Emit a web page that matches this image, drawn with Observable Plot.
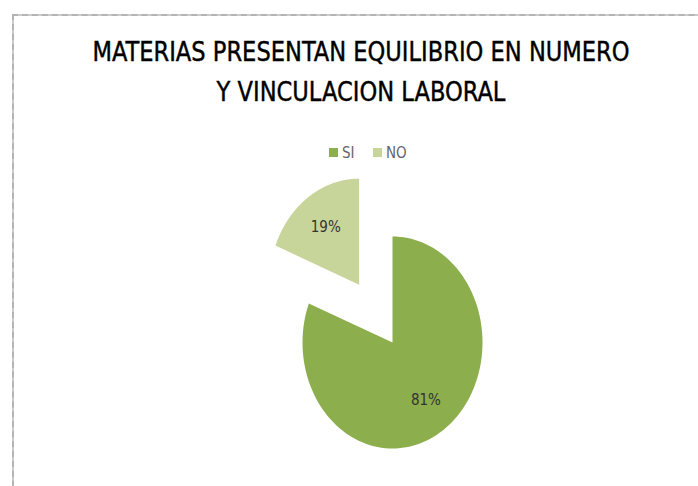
<!DOCTYPE html>
<html>
<head>
<meta charset="utf-8">
<script src="https://cdn.jsdelivr.net/npm/d3@7"></script>
<script src="https://cdn.jsdelivr.net/npm/@observablehq/plot@0.6"></script>
<style>
  html, body { margin: 0; padding: 0; background: #fff; }
  #page { position: relative; width: 698px; height: 486px; overflow: hidden; font-family: "Liberation Sans Narrow", "DejaVu Sans Condensed", "Open Sans", sans-serif; }
  #frame { position: absolute; left: 12px; top: 14px; width: 800px; height: 600px; border-left: 2px solid #cbcbcb; border-top: 2px solid #cbcbcb; }
  #frame2 { position: absolute; left: 12px; top: 14px; width: 800px; height: 600px; border-left: 2px dashed #8a8a8a; border-top: 2px dashed #8a8a8a; opacity: 0.35; }
  #title { position: absolute; left: 0; width: 722px; top: 32px; text-align: center; font-size: 27px; line-height: 40px; color: #000; transform: scaleX(0.93); transform-origin: 361px 0; -webkit-text-stroke: 0.4px #000; }
  #legend { position: absolute; top: 144px; left: 0; width: 698px; height: 18px; }
  .item { position: absolute; top: 0; font-size: 15px; color: #666; line-height: 18px; }
  .sw { display: inline-block; width: 9px; height: 9px; margin-right: 4px; vertical-align: 1px; }
  #chart { position: absolute; left: 0; top: 170px; }
</style>
</head>
<body>
<div id="page">
  <div id="frame"></div>
  <div id="frame2"></div>
  <div id="title">MATERIAS PRESENTAN EQUILIBRIO EN NUMERO<br>Y VINCULACION LABORAL</div>
  <div id="legend"></div>
  <div id="chart"></div>
</div>
<script>
const categories = ["SI", "NO"];
const values = [81, 19];
const labels = ["81%", "19%"];
const colors = ["#8cae4c", "#c7d59b"];
const explode = [0, 0.66];

// legend
const legendX = [329, 373];
const legend = document.getElementById("legend");
categories.forEach((c, i) => {
  const d = document.createElement("div");
  d.className = "item";
  d.style.left = legendX[i] + "px";
  d.innerHTML = `<span class="sw" style="background:${colors[i]}"></span>${c}`;
  legend.appendChild(d);
});

const pie = d3.pie().sort(null).value(d => d.value);
const arcs = pie(categories.map((c, i) => ({cat: c, value: values[i], label: labels[i], ex: explode[i]})));

const pts = [];
const lab = [];
arcs.forEach(a => {
  const mid = (a.startAngle + a.endAngle) / 2;
  const ox = a.data.ex * Math.sin(mid), oy = a.data.ex * Math.cos(mid);
  pts.push({cat: a.data.cat, x: ox, y: oy});
  const n = 120;
  for (let k = 0; k <= n; k++) {
    const t = a.startAngle + (a.endAngle - a.startAngle) * k / n;
    pts.push({cat: a.data.cat, x: ox + Math.sin(t), y: oy + Math.cos(t)});
  }
  lab.push({label: a.data.label, x: ox + 0.66 * Math.sin(mid), y: oy + 0.66 * Math.cos(mid)});
});

const W = 698, H = 316, cx = 392, cy = 172, rx = 90, ry = 106;
const chart = Plot.plot({
  width: W, height: H,
  margin: 0,
  x: {domain: [-cx / rx, (W - cx) / rx], axis: null},
  y: {domain: [-(H - cy) / ry, cy / ry], axis: null},
  color: {domain: categories, range: colors},
  marks: [
    Plot.line(pts, {x: "x", y: "y", z: "cat", fill: "cat", stroke: null, curve: "linear-closed"}),
    Plot.text(lab, {x: "x", y: "y", text: "label", fontSize: 15, fill: "#333",
      fontFamily: "Liberation Sans Narrow, DejaVu Sans Condensed, sans-serif"})
  ],
  style: {background: "transparent", overflow: "visible"}
});
document.getElementById("chart").appendChild(chart);
</script>
</body>
</html>
